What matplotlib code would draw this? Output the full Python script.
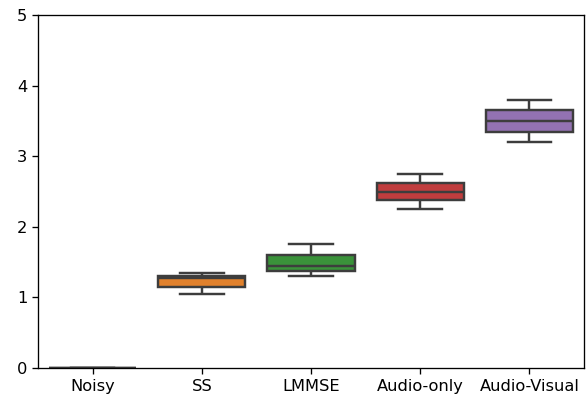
import matplotlib
matplotlib.use("Agg")
import matplotlib.pyplot as plt
import pandas as pd
import seaborn as sns

# Five-point samples per method: whisker low, Q1, median, Q3, whisker high
methods = ["Noisy", "SS", "LMMSE", "Audio-only", "Audio-Visual"]
noisy = [0.0, 0.0, 0.0, 0.0, 0.0]
ss = [1.05, 1.15, 1.27, 1.30, 1.35]
lmmse = [1.30, 1.38, 1.45, 1.60, 1.75]
audio_only = [2.25, 2.38, 2.50, 2.62, 2.75]
audio_visual = [3.20, 3.35, 3.50, 3.65, 3.80]

samples = [noisy, ss, lmmse, audio_only, audio_visual]
df = pd.DataFrame({
    "method": [m for m, vals in zip(methods, samples) for _ in vals],
    "score": [v for vals in samples for v in vals],
})

fig = plt.figure(figsize=(5.87, 3.96), dpi=100)
ax = fig.add_axes([0.0647, 0.0707, 0.9303, 0.8913])

sns.boxplot(data=df, x="method", y="score", hue="method", order=methods,
            palette="tab10", legend=False, linewidth=1.75, ax=ax, whis=1.5)

ax.set_ylim(0, 5)
ax.set_xlabel("")
ax.set_ylabel("")
ax.tick_params(labelsize=11.7, length=4.1, width=0.95)
for s in ax.spines.values():
    s.set_linewidth(0.95)

fig.savefig("out.png", dpi=100)
